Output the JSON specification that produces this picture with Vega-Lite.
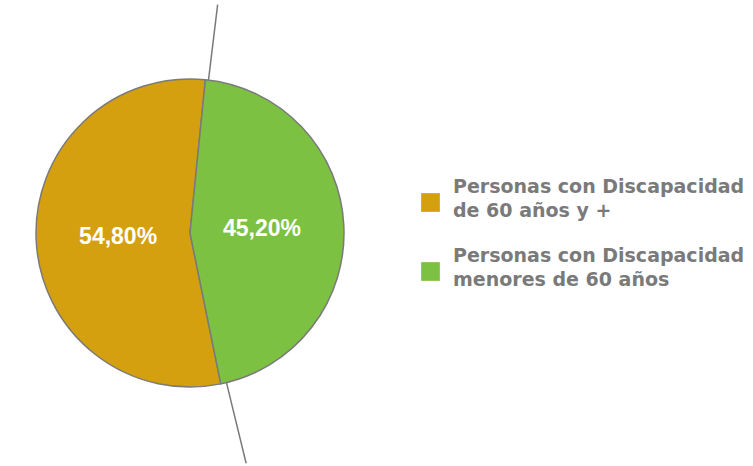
{
  "$schema": "https://vega.github.io/schema/vega-lite/v6.json",
  "width": 380,
  "height": 466,
  "padding": 0,
  "autosize": "pad",
  "background": "white",
  "config": {"view": {"stroke": null}, "font": "Liberation Sans", "style": {"guide-label": {"lineHeight": 24, "dy": -16}}},
  "layer": [
    {
      "data": {"values": [
        {"categoria": "Personas con Discapacidad de 60 años y +", "valor": 54.8, "etiqueta": "54,80%", "orden": 2},
        {"categoria": "Personas con Discapacidad menores de 60 años", "valor": 45.2, "etiqueta": "45,20%", "orden": 1}
      ]},
      "encoding": {
        "theta": {"field": "valor", "type": "quantitative", "stack": true, "scale": {"range": [0.1, 6.3832]}},
        "order": {"field": "orden", "type": "quantitative"}
      },
      "layer": [
        {
          "mark": {"type": "arc", "outerRadius": 154, "stroke": "#7a7a7a", "strokeWidth": 1.5},
          "encoding": {
            "color": {
              "field": "categoria", "type": "nominal",
              "scale": {"domain": ["Personas con Discapacidad de 60 años y +", "Personas con Discapacidad menores de 60 años"], "range": ["#D4A00F", "#7DC142"]},
              "legend": {
                "title": null,
                "orient": "none",
                "legendX": 421,
                "legendY": 193,
                "symbolType": "square",
                "symbolSize": 350,
                "symbolStrokeWidth": 0,
                "labelFont": "DejaVu Sans",
                "labelFontSize": 19,
                "labelFontWeight": "bold",
                "labelColor": "#7a7a7a",
                "labelOffset": 13,
                "labelLimit": 400,
                "rowPadding": 25,
                "labelExpr": "datum.value == 'Personas con Discapacidad de 60 años y +' ? ['Personas con Discapacidad', 'de 60 años y +'] : ['Personas con Discapacidad', 'menores de 60 años']"
              }
            }
          }
        },
        {
          "mark": {"type": "text", "radius": 72, "color": "white", "fontSize": 23, "fontWeight": "bold", "font": "Liberation Sans"},
          "encoding": {"text": {"field": "etiqueta", "type": "nominal"}}
        }
      ]
    },
    {
      "data": {"values": [
        {"angulo": 6.9, "r1": 154, "r2": 230},
        {"angulo": 166.3, "r1": 154, "r2": 237}
      ]},
      "mark": {"type": "arc", "stroke": "#7a7a7a", "strokeWidth": 1.5, "fill": null},
      "encoding": {
        "theta": {"field": "angulo", "type": "quantitative", "scale": {"domain": [0, 360], "range": [0, 6.2832]}},
        "theta2": {"field": "angulo"},
        "radius": {"field": "r1", "type": "quantitative", "scale": {"type": "linear", "domain": [0, 240], "range": [0, 240], "zero": true}},
        "radius2": {"field": "r2"}
      }
    }
  ],
  "resolve": {"scale": {"theta": "independent", "radius": "independent"}}
}
